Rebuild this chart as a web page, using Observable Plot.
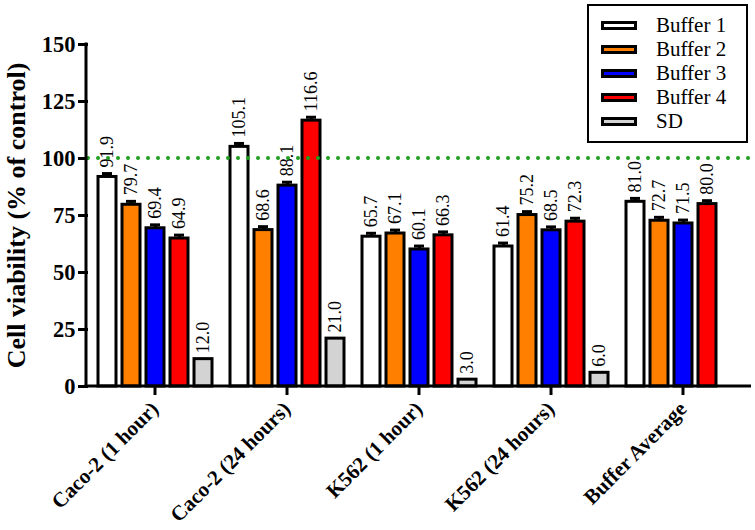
<!DOCTYPE html>
<html>
<head>
<meta charset="utf-8">
<script src="https://cdn.jsdelivr.net/npm/d3@7"></script>
<script src="https://cdn.jsdelivr.net/npm/@observablehq/plot@0.6"></script>
<style>
  html, body { margin: 0; padding: 0; background: #fff; }
  #wrap { position: relative; width: 755px; height: 530px; font-family: "Liberation Serif", Tinos, "Times New Roman", Times, "Nimbus Roman", "DejaVu Serif", serif; }
  #legend { position: absolute; left: 587px; top: 4px; width: 157px; height: 128px; border: 2.5px solid #000; background: #fff; padding-top: 7px; box-sizing: content-box; }
  .row { height: 24px; display: flex; align-items: center; }
  .sw { margin-left: 12px; width: 30px; height: 3px; border: 3px solid #000; }
  .lab { margin-left: 19px; font-size: 21px; color: #000; line-height: 24px; }
  svg text { font-family: "Liberation Serif", Tinos, "Times New Roman", Times, "Nimbus Roman", "DejaVu Serif", serif; }
</style>
</head>
<body>
<div id="wrap"><div id="legend"></div></div>
<script>
const groups = ["Caco-2 (1 hour)", "Caco-2 (24 hours)", "K562 (1 hour)", "K562 (24 hours)", "Buffer Average"];
const series = ["Buffer 1", "Buffer 2", "Buffer 3", "Buffer 4", "SD"];
const colors = ["#FFFFFF", "#FF8000", "#0000FF", "#FF0000", "#D3D3D3"];

const buffer1 = [91.9, 105.1, 65.7, 61.4, 81.0];
const buffer2 = [79.7, 68.6, 67.1, 75.2, 72.7];
const buffer3 = [69.4, 88.1, 60.1, 68.5, 71.5];
const buffer4 = [64.9, 116.6, 66.3, 72.3, 80.0];
const sdValues = [12.0, 21.0, 3.0, 6.0, null];

const err1 = [1.5, 1.5, 1.5, 1.5, 1.5];
const err2 = [1.5, 1.5, 1.5, 1.5, 1.5];
const err3 = [1.5, 1.5, 1.5, 1.5, 1.5];
const err4 = [1.5, 1.5, 1.5, 1.5, 1.5];
const errSD = [0, 0, 0, 0, 0];

const yTicks = [0, 25, 50, 75, 100, 125, 150];
const refLine = [100];
const yTitle = "Cell viability (% of control)";

const values = [buffer1, buffer2, buffer3, buffer4, sdValues];
const errs = [err1, err2, err3, err4, errSD];
const data = [];
groups.forEach((g, i) => series.forEach((s, j) => {
  const v = values[j][i];
  if (v != null) data.push({group: g, series: s, value: v, err: errs[j][i]});
}));
const errData = data.filter(d => d.err > 0);

const font = '"Liberation Serif", Tinos, "Times New Roman", Times, "Nimbus Roman", "DejaVu Serif", serif';

const plot = Plot.plot({
  width: 755,
  height: 530,
  marginLeft: 86,
  marginRight: 4,
  marginTop: 44,
  marginBottom: 144,
  style: {fontFamily: font, color: "#000", background: "transparent", overflow: "visible"},
  fx: {domain: groups, paddingInner: 0.08, paddingOuter: 0.046, label: null},
  x: {domain: series, paddingInner: 0.25, paddingOuter: 0.125, axis: null},
  y: {domain: [0, 150], axis: null},
  color: {domain: series, range: colors},
  marks: [
    Plot.barY(data, {fx: "group", x: "series", y: "value", fill: "series", stroke: "#000", strokeWidth: 3}),
    Plot.ruleX(errData, {fx: "group", x: "series", y1: "value", y2: d => d.value + d.err, stroke: "#000", strokeWidth: 3}),
    Plot.tickY(errData, {fx: "group", x: "series", y: d => d.value + d.err, stroke: "#000", strokeWidth: 3, insetLeft: 4, insetRight: 4}),
    Plot.text(data, {fx: "group", x: "series", y: d => d.value + d.err, text: d => d.value.toFixed(1), rotate: -90, textAnchor: "start", lineAnchor: "middle", dy: -6, fontSize: 18, fill: "#000"}),
    Plot.axisY({ticks: yTicks, tickSize: 10, tickPadding: 3, dx: -6, fontSize: 22.5, fontWeight: "bold", strokeWidth: 3, label: null}),
    Plot.axisY({ticks: [], tickSize: 0, label: yTitle, labelArrow: "none", labelAnchor: "center", labelOffset: 88, fontSize: 26, fontWeight: "bold"}),
    Plot.axisFx({anchor: "bottom", tickRotate: -45, tickSize: 9, tickPadding: 10, fontSize: 21, fontWeight: "bold", strokeWidth: 3, label: null})
  ]
});

// axis lines and reference line drawn through the plot's own y scale
const sy = plot.scale("y");
const yS = d3.scaleLinear(sy.domain, sy.range);
const left = 86, right = 755 - 4;
const svg = d3.select(plot);
svg.append("line").attr("x1", left + 2).attr("x2", right).attr("y1", yS(refLine[0])).attr("y2", yS(refLine[0]))
  .attr("stroke", "#1f9e1f").attr("stroke-width", 4).attr("stroke-linecap", "round").attr("stroke-dasharray", "0 10");
svg.append("line").attr("x1", left).attr("x2", left).attr("y1", yS(0) + 1.5).attr("y2", yS(150) - 1.5)
  .attr("stroke", "#000").attr("stroke-width", 3);
svg.append("line").attr("x1", left - 1.5).attr("x2", right).attr("y1", yS(0)).attr("y2", yS(0))
  .attr("stroke", "#000").attr("stroke-width", 3);
// strip any label arrow if the Plot version adds one
svg.selectAll("text").each(function() {
  const t = d3.select(this);
  if (t.text().includes(yTitle)) t.text(yTitle);
});

document.getElementById("wrap").prepend(plot);

const legend = d3.select("#legend");
series.forEach((s, j) => {
  const row = legend.append("div").attr("class", "row");
  row.append("div").attr("class", "sw").style("background", colors[j]);
  row.append("div").attr("class", "lab").text(s);
});
</script>
</body>
</html>
